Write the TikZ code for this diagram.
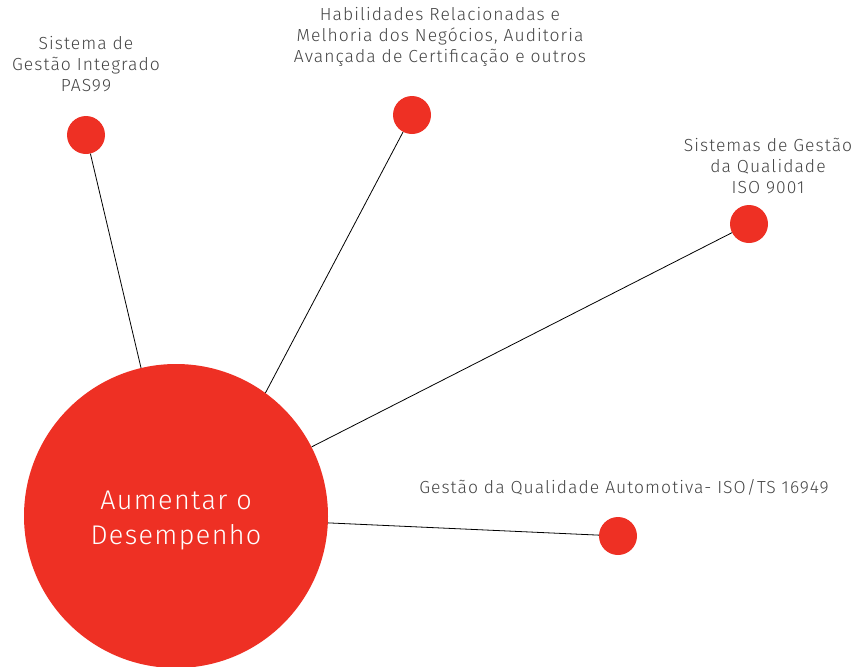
\documentclass[tikz,border=0pt]{standalone}
\usepackage{fontspec}
\setmainfont{Fira Sans}[UprightFont=* Light]
\newfontfamily\lblfont{Fira Sans}[UprightFont=* Light, LetterSpace=6]
\newfontfamily\ttlfont{Fira Sans}[UprightFont=* Light, LetterSpace=5]
\definecolor{dotred}{HTML}{EE3024}
\definecolor{txtgray}{HTML}{444444}
\begin{document}
\begin{tikzpicture}[x=1pt,y=-1pt,
  dot/.style={circle,fill=dotred,draw=none,minimum size=38pt,inner sep=0pt},
  lbl/.style={text=txtgray,font=\lblfont\fontsize{17.5}{20.8}\selectfont,align=center,inner sep=0pt},
  link/.style={draw=black,line width=0.8pt}]
\useasboundingbox (0,0) rectangle (868,667);
\node[circle,fill=dotred,minimum size=304pt,inner sep=0pt] (main) at (176,516) {};
\node[text=white,font=\ttlfont\fontsize{27}{35}\selectfont,align=center,inner sep=0pt] (mt) at (176,521) {Aumentar o\\Desempenho};
\node[dot] (a) at (86,135) {};
\node[dot] (b) at (412,115) {};
\node[dot] (c) at (749,224) {};
\node[dot] (d) at (618,536) {};
\draw[link] (a) -- (main);
\draw[link] (b) -- (main.54.7);
\draw[link] (c) -- (main);
\draw[link] (d) -- (main);
\node[lbl] (la) at (86,64) {Sistema de\\Gestão Integrado\\PAS99};
\node[lbl] (lb) at (440,37) {Habilidades Relacionadas e\\Melhoria dos Negócios, Auditoria\\Avançada de Certificação e outros};
\node[lbl] (lc) at (768,166) {Sistemas de Gestão\\da Qualidade\\ISO 9001};
\node[lbl] (ld) at (624,487) {Gestão da Qualidade Automotiva- ISO/TS 16949};
\end{tikzpicture}
\end{document}
